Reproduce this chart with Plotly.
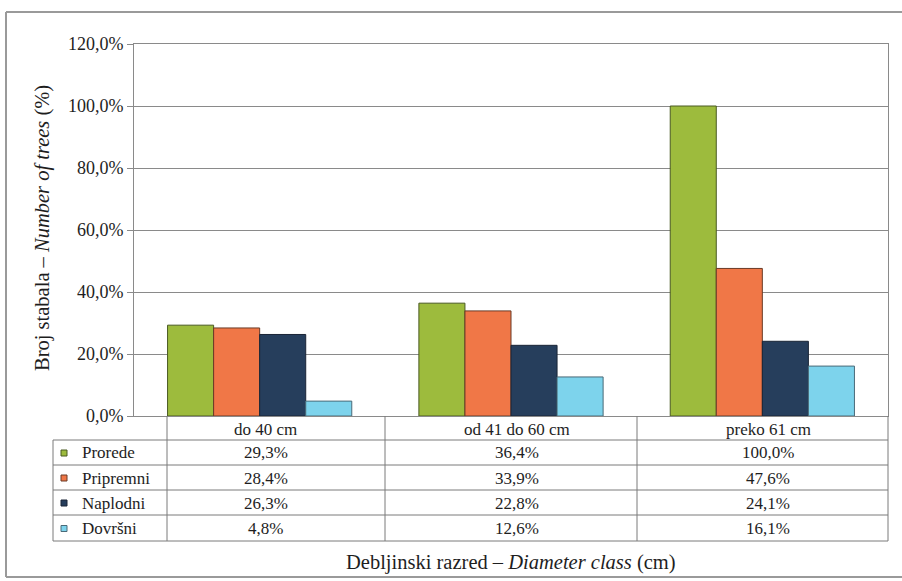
import plotly.graph_objects as go

# Diameter classes and the share of trees per felling type (%)
categories = ["do 40 cm", "od 41 do 60 cm", "preko 61 cm"]
series_names = ["Prorede", "Pripremni", "Naplodni", "Dovršni"]
prorede = [29.3, 36.4, 100.0]
pripremni = [28.4, 33.9, 47.6]
naplodni = [26.3, 22.8, 24.1]
dovrsni = [4.8, 12.6, 16.1]
y_ticks = [0, 20, 40, 60, 80, 100, 120]

series_values = [prorede, pripremni, naplodni, dovrsni]
colors = ["#9DBB3D", "#F07747", "#263E5C", "#7DD3EC"]
outlines = ["#4a5a22", "#6a3a26", "#1a2536", "#4a6a78"]

W, H = 902, 581
L, R, T, B = 134, 888, 44, 416
FONT = "Liberation Serif"
GRID = "#8a8a8a"
TXT = "#1e1e1e"


def px(x):
    return (x - L) / (R - L)


def py(y):
    return (B - y) / (B - T)


def pct(v):
    return f"{v:.1f}".replace(".", ",") + "%"


fig = go.Figure()
for name, vals, c, oc in zip(series_names, series_values, colors, outlines):
    fig.add_trace(go.Bar(
        x=categories, y=vals, name=name,
        marker=dict(color=c, line=dict(color=oc, width=1)),
        showlegend=False,
    ))

shapes = []
annotations = []

# outer chart frame (left, top, bottom edges)
frame = dict(color="#9a9a9a", width=2)
for x0, y0, x1, y1 in [(6, 12, 902, 12), (6, 12, 6, 577), (6, 577, 902, 577)]:
    shapes.append(dict(type="line", xref="paper", yref="paper",
                       x0=px(x0), x1=px(x1), y0=py(y0), y1=py(y1), line=frame))

# data table grid
row_edges = [440, 465, 490, 515, 541]
col_edges = [167, 385, 637, 888]
line_style = dict(color="#7a7a7a", width=1)
for ry in row_edges:
    shapes.append(dict(type="line", xref="paper", yref="paper",
                       x0=px(53), x1=px(888), y0=py(ry), y1=py(ry), line=line_style))
shapes.append(dict(type="line", xref="paper", yref="paper",
                   x0=px(53), x1=px(53), y0=py(row_edges[0]), y1=py(row_edges[-1]),
                   line=line_style))
for cx in col_edges:
    shapes.append(dict(type="line", xref="paper", yref="paper",
                       x0=px(cx), x1=px(cx), y0=py(B), y1=py(row_edges[-1]),
                       line=line_style))


def label(x, y, text, size=17, xref="paper", xanchor="center", xshift=0, **kw):
    return dict(x=x, y=y, xref=xref, yref="paper", text=text, showarrow=False,
                xanchor=xanchor, yanchor="middle", xshift=xshift,
                font=dict(family=FONT, size=size, color=TXT), **kw)


# header row with class names
for cat in categories:
    annotations.append(label(cat, py(429), cat, xref="x", xshift=6))

# legend keys and values per series
for i, (name, vals, c, oc) in enumerate(zip(series_names, series_values, colors, outlines)):
    top, bot = row_edges[i], row_edges[i + 1]
    mid = (top + bot) / 2 + 0.5
    shapes.append(dict(type="rect", xref="paper", yref="paper",
                       x0=px(61), x1=px(67), y0=py(mid + 3), y1=py(mid - 3),
                       fillcolor=c, line=dict(color=oc, width=1)))
    annotations.append(label(px(80), py(mid), name, xanchor="left"))
    for cat, v in zip(categories, vals):
        annotations.append(label(cat, py(mid), pct(v), xref="x", xshift=6))

# axis titles
annotations.append(label(px(42), py(228), "Broj stabala – <i>Number of trees</i> (%)",
                         size=20.5, textangle=-90))
annotations.append(label(px(511), py(562), "Debljinski razred – <i>Diameter class</i> (cm)",
                         size=20.5))

fig.update_layout(
    width=W, height=H,
    margin=dict(l=L, r=W - R, t=T, b=H - B),
    paper_bgcolor="white", plot_bgcolor="white",
    barmode="group", bargap=0.267, bargroupgap=0,
    shapes=shapes, annotations=annotations,
    font=dict(family=FONT, color=TXT),
)
fig.update_xaxes(
    showticklabels=False, ticks="", showgrid=False,
    showline=True, linecolor=GRID, linewidth=1, mirror=True,
)
fig.update_yaxes(
    range=[0, 120], tickvals=y_ticks, ticktext=[pct(v) for v in y_ticks],
    ticks="outside", ticklen=6, tickcolor=GRID,
    showgrid=True, gridcolor=GRID, gridwidth=1,
    showline=True, linecolor=GRID, linewidth=1, mirror=True,
    zeroline=False,
    tickfont=dict(family=FONT, size=18, color=TXT),
)

fig.write_html("out.html")
